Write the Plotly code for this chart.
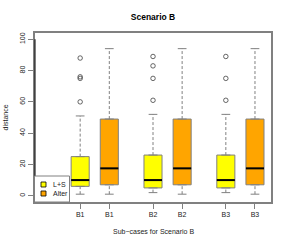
import plotly.graph_objects as go

positions = [1, 2, 3.5, 4.5, 6, 7]
tick_labels = ["B1", "B1", "B2", "B2", "B3", "B3"]
groups = ["L+S", "Alter", "L+S", "Alter", "L+S", "Alter"]
lower = [1, 1, 2, 1, 2, 1]
q1 = [6, 7, 5, 7, 5, 7]
median = [10, 17.5, 10, 17.5, 10, 17.5]
q3 = [25, 49, 26, 49, 26, 49]
upper = [51, 94, 52, 94, 52, 94]
outliers = [[60, 75, 76, 88], [], [61, 75, 83, 89], [], [61, 75, 89], []]
legend_names = ["L+S", "Alter"]
colors = {"L+S": "#FFFF00", "Alter": "#FFA500"}

BOX_W = 0.62
CAP_W = 0.3
GRAY = "#808080"
TXT = "#222222"

W, H = 289, 245
ML, MR, MT, MB = 35, 18, 33, 43
PW, PH = W - ML - MR, H - MT - MB


def px_x(px):
    return (px - ML) / PW


def px_y(py):
    return (H - MB - py) / PH


fig = go.Figure()

for i, p in enumerate(positions):
    g = groups[i]
    for a, b in ((q3[i], upper[i]), (lower[i], q1[i])):
        fig.add_trace(go.Scatter(x=[p, p], y=[a, b], mode="lines",
                                 line=dict(color=GRAY, width=1, dash="3px,2px"),
                                 showlegend=False, hoverinfo="skip"))
    for v in (lower[i], upper[i]):
        fig.add_trace(go.Scatter(x=[p - CAP_W / 2, p + CAP_W / 2], y=[v, v], mode="lines",
                                 line=dict(color=GRAY, width=1),
                                 showlegend=False, hoverinfo="skip"))
    fig.add_trace(go.Box(x=[p], q1=[q1[i]], median=[median[i]], q3=[q3[i]],
                         lowerfence=[q1[i]], upperfence=[q3[i]],
                         width=BOX_W, fillcolor=colors[g],
                         line=dict(color=GRAY, width=1),
                         boxpoints=False, showlegend=False, hoverinfo="skip"))
    fig.add_trace(go.Scatter(x=[p - BOX_W / 2, p + BOX_W / 2], y=[median[i], median[i]],
                             mode="lines", line=dict(color="black", width=2),
                             showlegend=False, hoverinfo="skip"))
    if outliers[i]:
        fig.add_trace(go.Scatter(x=[p] * len(outliers[i]), y=outliers[i], mode="markers",
                                 marker=dict(symbol="circle-open", size=4.5,
                                             color="#404040", line=dict(width=0.8)),
                                 showlegend=False, hoverinfo="skip"))

# y axis line from 0 to 100
fig.add_shape(type="line", xref="paper", yref="y", x0=0, x1=0, y0=0, y1=100,
              line=dict(color="black", width=1))

# manual legend
fig.add_shape(type="rect", xref="paper", yref="paper",
              x0=px_x(34.5), x1=px_x(69.5), y0=px_y(202), y1=px_y(176),
              line=dict(color=GRAY, width=1), fillcolor="white", layer="above")
for k, name in enumerate(legend_names):
    cy = 184.5 + 9 * k
    fig.add_shape(type="rect", xref="paper", yref="paper",
                  x0=px_x(41), x1=px_x(46), y0=px_y(cy + 2.5), y1=px_y(cy - 2.5),
                  line=dict(color="black", width=0.8), fillcolor=colors[name],
                  layer="above")
    fig.add_annotation(text=name, xref="paper", yref="paper", x=px_x(51), y=px_y(cy),
                       xanchor="left", yanchor="middle", showarrow=False,
                       font=dict(size=7, color=TXT))

# axis titles
fig.add_annotation(text="Sub\u2212cases for Scenario B", xref="paper", yref="paper",
                   x=0.5, y=px_y(231), xanchor="center", yanchor="middle",
                   showarrow=False, font=dict(size=7, color=TXT))
fig.add_annotation(text="distance", xref="paper", yref="paper", textangle=-90,
                   x=px_x(5), y=0.5, xanchor="center", yanchor="middle",
                   showarrow=False, font=dict(size=7, color=TXT))

fig.update_layout(
    template="none",
    width=W, height=H,
    margin=dict(l=ML, r=MR, t=MT, b=MB),
    paper_bgcolor="white", plot_bgcolor="white",
    font=dict(family="Liberation Sans, Arial, sans-serif", size=7, color=TXT),
    title=dict(text="<b>Scenario B</b>", x=(ML + PW / 2) / W, xanchor="center",
               y=1 - 17 / H, yanchor="middle", font=dict(size=8.5, color="black")),
    showlegend=False,
)

fig.update_xaxes(range=[-0.55, 7.55], tickmode="array", tickvals=positions,
                 ticktext=tick_labels, ticks="outside", ticklen=5, tickcolor=GRAY,
                 tickfont=dict(size=7, color=TXT),
                 showgrid=False, zeroline=False, showline=True, mirror=True,
                 linecolor=GRAY, linewidth=1.5, automargin=False)
fig.update_yaxes(range=[-4, 104], tickmode="array", tickvals=[0, 20, 40, 60, 80, 100],
                 ticks="outside", ticklen=5, tickcolor=GRAY, tickangle=-90,
                 tickfont=dict(size=7, color=TXT),
                 showgrid=False, zeroline=False, showline=True, mirror=True,
                 linecolor=GRAY, linewidth=1.5, automargin=False)

fig.write_html("out.html", config={"displayModeBar": False},
               post_script="document.body.style.margin='0';")
